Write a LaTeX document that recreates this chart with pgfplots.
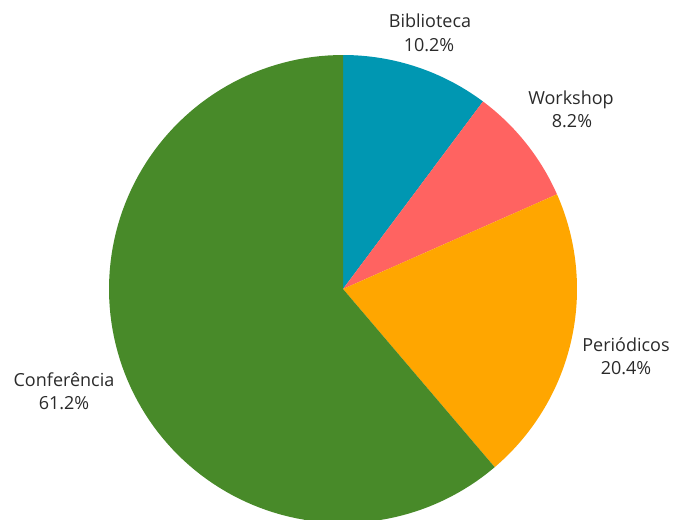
\documentclass[border=0pt]{standalone}
\usepackage{pgfplots}
\usepackage{pgfplotstable}
\pgfplotsset{compat=1.18}
\usepackage{fontspec}
\setmainfont{Open Sans}
\definecolor{cBib}{HTML}{0097B2}
\definecolor{cWork}{HTML}{FF6361}
\definecolor{cPer}{HTML}{FFA600}
\definecolor{cConf}{HTML}{488A29}
\definecolor{txt}{HTML}{2A2A2A}

\pgfplotstableread{
idx count
0 5
1 4
2 10
3 30
}\piedata

\pgfplotstablegetelem{0}{count}\of\piedata \let\vA\pgfplotsretval
\pgfplotstablegetelem{1}{count}\of\piedata \let\vB\pgfplotsretval
\pgfplotstablegetelem{2}{count}\of\piedata \let\vC\pgfplotsretval
\pgfplotstablegetelem{3}{count}\of\piedata \let\vD\pgfplotsretval
\pgfmathsetmacro\tot{\vA+\vB+\vC+\vD}
\pgfmathsetmacro\aA{90}
\pgfmathsetmacro\aB{\aA-360*\vA/\tot}
\pgfmathsetmacro\aC{\aB-360*\vB/\tot}
\pgfmathsetmacro\aD{\aC-360*\vC/\tot}
\pgfmathsetmacro\aE{\aD-360*\vD/\tot}

\newcommand\cx{343}
\newcommand\cy{231}
\newcommand\rr{234}

\begin{document}
\begin{tikzpicture}
\useasboundingbox (0,0) rectangle (673bp,520bp);
\begin{axis}[
  at={(0,0)}, anchor=south west,
  width=673bp, height=520bp, scale only axis,
  xmin=0, xmax=673, ymin=0, ymax=520,
  hide axis, clip=true,
  samples=120,
]
\addplot[fill=cBib, draw=none, domain=\aB:\aA] ({\cx+\rr*cos(x)},{\cy+\rr*sin(x)}) -- (axis cs:\cx,\cy) -- cycle;
\addplot[fill=cWork, draw=none, domain=\aC:\aB] ({\cx+\rr*cos(x)},{\cy+\rr*sin(x)}) -- (axis cs:\cx,\cy) -- cycle;
\addplot[fill=cPer, draw=none, domain=\aD:\aC] ({\cx+\rr*cos(x)},{\cy+\rr*sin(x)}) -- (axis cs:\cx,\cy) -- cycle;
\addplot[fill=cConf, draw=none, domain=\aE:\aD] ({\cx+\rr*cos(x)},{\cy+\rr*sin(x)}) -- (axis cs:\cx,\cy) -- cycle;
\end{axis}
\begin{scope}[every node/.style={font=\fontsize{18bp}{20bp}\selectfont, text=txt, anchor=base, inner sep=0pt}]
\node at (430bp,492bp) {Biblioteca};
\node at (429bp,468.5bp) {10.2\%};
\node at (571bp,415bp) {Workshop};
\node at (572bp,392.5bp) {8.2\%};
\node at (626bp,168bp) {Periódicos};
\node at (626bp,145bp) {20.4\%};
\node at (64bp,133bp) {Conferência};
\node at (64bp,110bp) {61.2\%};
\end{scope}
\end{tikzpicture}
\end{document}
